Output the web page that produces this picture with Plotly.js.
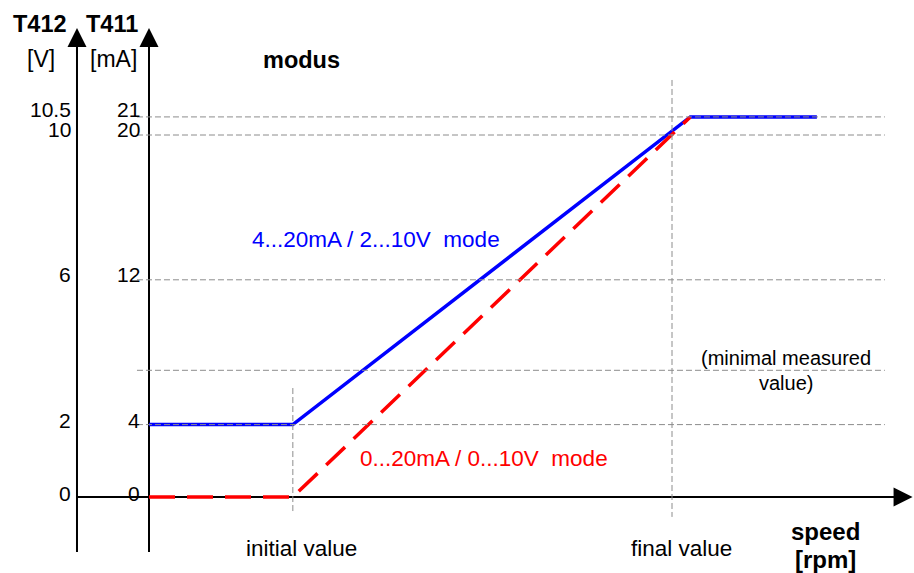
<!DOCTYPE html>
<html>
<head>
<meta charset="utf-8">
<script src="https://cdn.plot.ly/plotly-3.0.1.min.js"></script>
<style>html,body{margin:0;padding:0;background:#fff;}#chart{width:914px;height:573px;}</style>
</head>
<body>
<div id="chart"></div>
<script>
// speed in % of the final value (0 = origin), output in mA (V = mA / 2)
const speedBlue = [0, 27.5, 103.5, 127.7];
const mABlue    = [4, 4, 21, 21];
const speedRed  = [0, 27.5, 103.5];
const mARed     = [0, 0, 21];

const mATicks   = [0, 4, 12, 20, 21];
const mALabels  = ['0', '4', '12', '20', '21'];
const VTicks    = [0, 2, 6, 10, 10.5];
const VLabels   = ['0', '2', '6', '10', '10.5'];

const refLevels = [4, 7, 12, 20, 21];        // dashed horizontal reference lines (mA)
const refSpeeds = [27.5, 100];                // initial value, final value
const refSpeedLabels = ['initial value', 'final value'];

const FONT = 'Liberation Sans, Arial, sans-serif';
const VAXIS = -13.77, MAXIS = 0;
const XR = [-28.49, 146.27], YR = [-4.199, 27.459];

const grid = {color: '#8c8c8c', width: 1, dash: '6px,3px'};
const axisLine = {color: '#000', width: 2};
const shapes = [];
// axis lines (below data)
shapes.push({type: 'line', xref: 'x', yref: 'y', x0: VAXIS, x1: VAXIS, y0: -3.04, y1: 25.3, line: axisLine, layer: 'below'});
shapes.push({type: 'line', xref: 'x', yref: 'y', x0: MAXIS, x1: MAXIS, y0: -3.04, y1: 25.3, line: axisLine, layer: 'below'});
shapes.push({type: 'line', xref: 'x', yref: 'y', x0: VAXIS, x1: 144, y0: 0, y1: 0, line: axisLine, layer: 'below'});
// dashed reference lines
refLevels.forEach(v => {
  shapes.push({type: 'line', xref: 'x', yref: 'y', x0: -2.3, x1: 140.7, y0: v, y1: v, line: grid, layer: 'above'});
});
shapes.push({type: 'line', xref: 'x', yref: 'y', x0: refSpeeds[0], x1: refSpeeds[0], y0: 6.02, y1: -0.88, line: grid});
shapes.push({type: 'line', xref: 'x', yref: 'y', x0: refSpeeds[1], x1: refSpeeds[1], y0: 23.04, y1: -1.10, line: grid});

const ann = [];
function arrow(x, y, ax, ay) {
  ann.push({xref: 'x', yref: 'y', axref: 'x', ayref: 'y', x: x, y: y, ax: ax, ay: ay, text: '',
    showarrow: true, arrowhead: 2, arrowsize: 1.9, arrowwidth: 2, arrowcolor: '#000', standoff: 0, startstandoff: 0});
}
arrow(VAXIS, 25.91, VAXIS, 24.4);
arrow(MAXIS, 25.91, MAXIS, 24.4);
arrow(146.0, 0, 140, 0);

function txt(t, x, y, o) {
  ann.push(Object.assign({xref: 'x', yref: 'y', x: x, y: y, text: t, showarrow: false,
    font: {family: FONT, size: 22.5, color: '#000'}}, o || {}));
}
const tickFont = {family: FONT, size: 21, color: '#000'};
const tickShift = [3.5, 4, 5.5, 6, 7];
mATicks.forEach((v, i) => txt(mALabels[i], MAXIS, v, {xanchor: 'right', xshift: -7, yshift: tickShift[i], font: tickFont}));
VTicks.forEach((v, i) => txt(VLabels[i], VAXIS, v * 2, {xanchor: 'right', xshift: -4, yshift: tickShift[i], font: tickFont}));

const boldFont = {family: FONT, size: 23.5, color: '#000'};
txt('<b>T412</b>', -20.84, 26.13, {font: boldFont});
txt('<b>T411</b>', -7.17, 26.13, {font: boldFont});
txt('[V]', -20.65, 24.20, {font: {family: FONT, size: 23, color: '#000'}});
txt('[mA]', -6.88, 24.20, {font: {family: FONT, size: 23, color: '#000'}});
txt('<b>modus</b>', 29.2, 24.14, {font: boldFont});
txt('4...20mA / 2...10V\u00a0\u00a0mode', 19.31, 14.20, {xanchor: 'left', font: {family: FONT, size: 22.5, color: '#0000ff'}});
txt('0...20mA / 0...10V\u00a0\u00a0mode', 39.96, 2.10, {xanchor: 'left', font: {family: FONT, size: 22.5, color: '#ff0000'}});
txt('(minimal measured', 121.8, 7.68, {font: {family: FONT, size: 20, color: '#000'}});
txt('value)', 121.8, 6.30, {font: {family: FONT, size: 20, color: '#000'}});
txt(refSpeedLabels[0], 29.25, -2.82);
txt(refSpeedLabels[1], 101.8, -2.82);
txt('<b>speed</b>', 129.4, -1.90, {font: {family: FONT, size: 24, color: '#000'}});
txt('<b>[rpm]</b>', 129.4, -3.46, {font: {family: FONT, size: 24, color: '#000'}});

const traces = [
  {x: speedBlue, y: mABlue, mode: 'lines', line: {color: '#0000ff', width: 3.5}, hoverinfo: 'skip'},
  {x: speedRed, y: mARed, mode: 'lines', line: {color: '#ff0000', width: 3.5, dash: '26px,12px'}, hoverinfo: 'skip'}
];

const layout = {
  width: 914, height: 573,
  margin: {l: 0, r: 0, t: 0, b: 0},
  paper_bgcolor: '#fff', plot_bgcolor: '#fff',
  showlegend: false,
  xaxis: {range: XR, visible: false, fixedrange: true},
  yaxis: {range: YR, visible: false, fixedrange: true},
  shapes: shapes,
  annotations: ann
};
Plotly.newPlot('chart', traces, layout, {staticPlot: true, displayModeBar: false});
</script>
</body>
</html>
